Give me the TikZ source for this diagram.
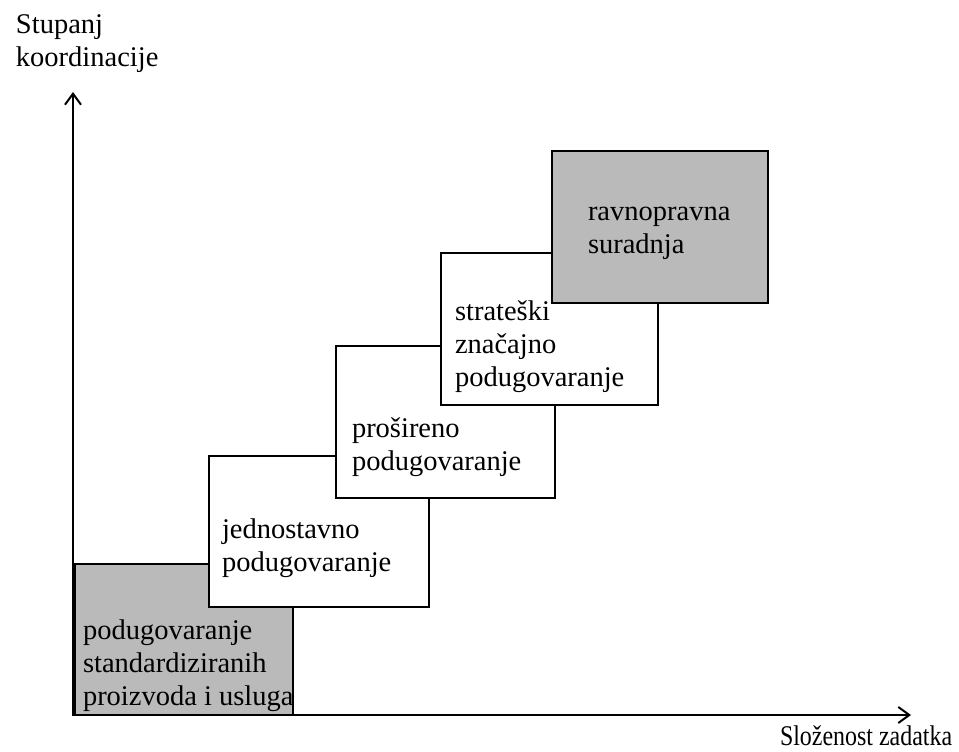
\documentclass[tikz,border=0pt]{standalone}
\usepackage{fontspec}
\setmainfont{Liberation Serif}
\usepackage{graphicx}
\usetikzlibrary{arrows.meta}
\begin{document}
\begin{tikzpicture}[x=1pt,y=-1pt,
  txt/.style={anchor=base west,inner sep=0pt,outer sep=0pt,font=\fontsize{28.5}{33}\selectfont},
  stepbox/.style={draw=black,line width=1.2pt,fill=white,anchor=north west,inner sep=0pt,outer sep=0pt},
  graybox/.style={stepbox,fill=black!27},
  axis/.style={line width=2.6pt,{Straight Barb[length=11pt,width=16pt,line width=2pt]}-{Straight Barb[length=11pt,width=16pt,line width=2pt]}}
]
\useasboundingbox[fill=white] (0,0) rectangle (959,752);
% axes
\coordinate (O) at (73,715);
\coordinate (ytip) at (73,92);
\coordinate (xtip) at (911,715);
\draw[axis] (ytip) -- (O) -- (xtip);
\node[txt] (ylab) at (16,34) {\vtop{\hbox{Stupanj}\hbox{koordinacije}}};
\node[txt] (xlab) at (780,745) {\scalebox{0.84}[1]{Složenost zadatka}};
% boxes
\node[graybox,minimum width=218pt,minimum height=151pt] (b1) at (75,564) {};
\node[stepbox,minimum width=220pt,minimum height=151pt] (b2) at (209,456) {};
\node[stepbox,minimum width=219pt,minimum height=152pt] (b3) at (336,346) {};
\node[stepbox,minimum width=217pt,minimum height=152pt] (b4) at (441,253) {};
\node[graybox,minimum width=216pt,minimum height=152pt] (b5) at (552,151) {};
\draw[line width=2.6pt] (O) -- (73,560);
% texts
\node[txt] (t1) at (83,639) {\vtop{\hbox{podugovaranje}\hbox{standardiziranih}\hbox{proizvoda i usluga}}};
\node[txt] (t2) at (222,538) {\vtop{\hbox{jednostavno}\hbox{podugovaranje}}};
\node[txt] (t3) at (352,437) {\vtop{\hbox{prošireno}\hbox{podugovaranje}}};
\node[txt] (t4) at (455,320) {\vtop{\hbox{strateški}\hbox{značajno}\hbox{podugovaranje}}};
\node[txt] (t5) at (588,220) {\vtop{\hbox{ravnopravna}\hbox{suradnja}}};
\end{tikzpicture}
\end{document}
